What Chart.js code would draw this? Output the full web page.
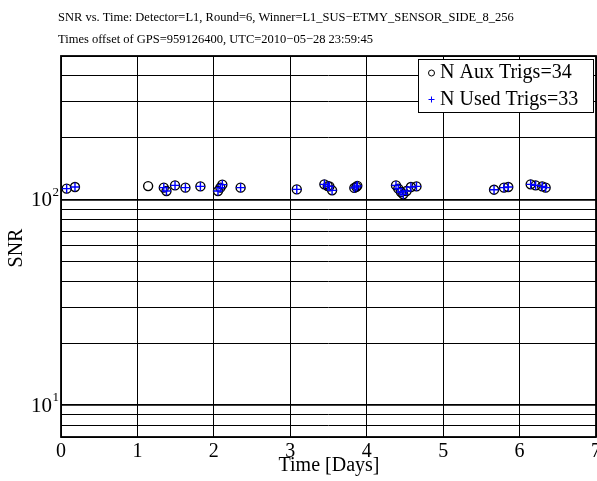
<!DOCTYPE html>
<html>
<head>
<meta charset="utf-8">
<script src="https://cdn.jsdelivr.net/npm/chart.js@4.4.1/dist/chart.umd.min.js"></script>
<style>
  html, body { margin: 0; padding: 0; background: #fff; }
  canvas { display: block; }
</style>
</head>
<body>
<canvas id="snr" width="597" height="481"></canvas>
<script>
const titleLines = [
  'SNR vs. Time: Detector=L1, Round=6, Winner=L1_SUS\u2212ETMY_SENSOR_SIDE_8_256',
  'Times offset of GPS=959126400, UTC=2010\u221205\u221228 23:59:45'
];

// used triggers (time in days, SNR)
const usedTime = [0.074, 0.183, 1.345, 1.380, 1.492, 1.628, 1.824, 2.054, 2.085, 2.111, 2.350,
  3.085, 3.446, 3.490, 3.512, 3.547, 3.838, 3.864, 3.877,
  4.383, 4.413, 4.448, 4.478, 4.521, 4.578, 4.651,
  5.666, 5.796, 5.852, 6.145, 6.210, 6.296, 6.341];
const usedSnr = [113.1, 115.2, 114.4, 110.1, 117.3, 114.4, 116.0, 110.1, 114.4, 118.3, 114.4,
  112.2, 118.7, 116.4, 116.0, 111.0, 114.1, 115.4, 116.7,
  117.3, 113.1, 108.9, 106.1, 110.1, 115.2, 116.0,
  111.8, 114.4, 115.2, 118.7, 117.3, 116.0, 114.4];

// aux triggers = used ones plus the one that was not used
const auxTime = usedTime.concat([1.140]);
const auxSnr = usedSnr.concat([116.4]);

const xTicks = [0, 1, 2, 3, 4, 5, 6, 7];
const yTicks = [7, 8, 9, 10, 20, 30, 40, 50, 60, 70, 80, 90, 100, 200, 300, 400, 500];
const yMajor = [10, 100];
const yMajorExp = ['1', '2'];

const serif = '"Liberation Serif", "Times New Roman", serif';

const toPoints = (xs, ys) => xs.map((x, i) => ({ x: x, y: ys[i] }));

const decor = {
  id: 'decor',
  afterDraw(chart) {
    const ctx = chart.ctx;
    const a = chart.chartArea;
    const xs = chart.scales.x, ys = chart.scales.y;
    ctx.save();

    // frame
    ctx.strokeStyle = '#000';
    ctx.lineWidth = 1.8;
    ctx.strokeRect(a.left, a.top, a.right - a.left, a.bottom - a.top);

    // title
    ctx.fillStyle = '#000';
    ctx.font = '12.5px ' + serif;
    ctx.textAlign = 'left';
    ctx.textBaseline = 'alphabetic';
    ctx.fillText(titleLines[0], 58, 21);
    ctx.fillText(titleLines[1], 58, 43);

    // x tick labels
    ctx.font = '20px ' + serif;
    ctx.textAlign = 'center';
    ctx.textBaseline = 'middle';
    xTicks.forEach(t => ctx.fillText(String(t), xs.getPixelForValue(t), 452));
    ctx.fillText('Time [Days]', 329, 466);

    // y tick labels 10^n
    yMajor.forEach((v, i) => {
      const py = ys.getPixelForValue(v);
      ctx.font = '21px ' + serif;
      ctx.textAlign = 'right';
      ctx.textBaseline = 'middle';
      ctx.fillText('10', 52, py + 1);
      ctx.font = '13px ' + serif;
      ctx.textAlign = 'left';
      ctx.textBaseline = 'alphabetic';
      ctx.fillText(yMajorExp[i], 52.5, py - 4);
    });

    // y title
    ctx.save();
    ctx.translate(17, 248);
    ctx.rotate(-Math.PI / 2);
    ctx.font = '20px ' + serif;
    ctx.textAlign = 'center';
    ctx.textBaseline = 'middle';
    ctx.fillText('SNR', 0, 0);
    ctx.restore();

    // legend
    const lx = 418, ly = 59, lw = 175, lh = 53;
    ctx.fillStyle = '#fff';
    ctx.fillRect(lx, ly, lw, lh);
    ctx.strokeStyle = '#000';
    ctx.lineWidth = 1;
    ctx.strokeRect(lx + 0.5, ly + 0.5, lw, lh);
    ctx.beginPath();
    ctx.arc(431.5, 73, 3, 0, Math.PI * 2);
    ctx.stroke();
    ctx.strokeStyle = '#0000ff';
    ctx.beginPath();
    ctx.moveTo(428.5, 99.5); ctx.lineTo(434.5, 99.5);
    ctx.moveTo(431.5, 96.5); ctx.lineTo(431.5, 102.5);
    ctx.stroke();
    ctx.fillStyle = '#000';
    ctx.font = '20px ' + serif;
    ctx.textAlign = 'left';
    ctx.textBaseline = 'middle';
    ctx.fillText('N Aux Trigs=' + auxTime.length, 440, 73);
    ctx.fillText('N Used Trigs=' + usedTime.length, 440, 100);

    ctx.restore();
  }
};

new Chart(document.getElementById('snr').getContext('2d'), {
  type: 'scatter',
  data: {
    datasets: [
      {
        label: 'N Used Trigs',
        data: toPoints(usedTime, usedSnr),
        pointStyle: 'cross',
        pointRadius: 4.5,
        borderColor: '#0000ff',
        backgroundColor: '#0000ff',
        borderWidth: 1.4
      },
      {
        label: 'N Aux Trigs',
        data: toPoints(auxTime, auxSnr),
        pointStyle: 'circle',
        pointRadius: 4.5,
        borderColor: '#000',
        backgroundColor: 'rgba(0,0,0,0)',
        borderWidth: 1.4
      }
    ]
  },
  options: {
    responsive: false,
    animation: false,
    layout: { autoPadding: false, padding: { left: 61, top: 56, right: 1, bottom: 44 } },
    plugins: { legend: { display: false }, tooltip: { enabled: false } },
    scales: {
      x: {
        type: 'linear',
        min: 0,
        max: 7,
        afterBuildTicks: s => { s.ticks = xTicks.map(v => ({ value: v })); },
        ticks: { display: false },
        grid: { color: '#000', lineWidth: 1, drawTicks: false },
        border: { display: false }
      },
      y: {
        type: 'logarithmic',
        min: 7,
        max: 500,
        afterBuildTicks: s => { s.ticks = yTicks.map(v => ({ value: v })); },
        ticks: { display: false },
        grid: {
          color: '#000',
          lineWidth: c => (yMajor.includes(c.tick.value) ? 1.8 : 1),
          drawTicks: false
        },
        border: { display: false }
      }
    }
  },
  plugins: [decor]
});
</script>
</body>
</html>
